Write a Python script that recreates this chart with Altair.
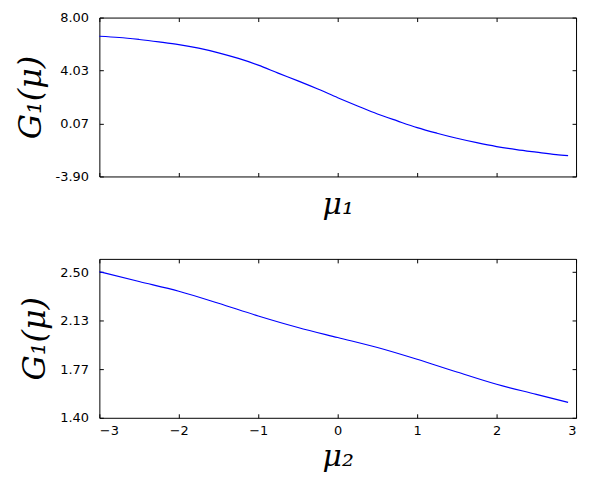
import altair as alt
import pandas as pd

MU_TOP = [-3.0, -2.75, -2.5, -2.25, -2.0, -1.75, -1.5, -1.25, -1.0, -0.75, -0.5, -0.25,
          0.0, 0.25, 0.5, 0.75, 1.0, 1.25, 1.5, 1.75, 2.0, 2.25, 2.5, 2.75, 2.9]
G_TOP = [6.60, 6.51, 6.36, 6.18, 5.98, 5.71, 5.36, 4.94, 4.44, 3.84, 3.26, 2.65,
         2.00, 1.38, 0.78, 0.26, -0.24, -0.66, -1.04, -1.37, -1.66, -1.89, -2.08, -2.26, -2.34]

MU_BOTTOM = [-3.0, -2.5, -2.0, -1.5, -1.0, -0.5, 0.0, 0.5, 1.0, 1.5, 2.0, 2.5, 2.9]
G_BOTTOM = [2.503, 2.429, 2.356, 2.265, 2.169, 2.082, 2.006, 1.931, 1.842, 1.746, 1.653, 1.577, 1.516]

X_TICKS = [-3, -2, -1, 0, 1, 2, 3]
Y_TICKS_TOP = [-3.9, 0.0667, 4.0333, 8.0]
Y_TICKS_BOTTOM = [1.4, 1.7667, 2.1333, 2.5]
Y_DOMAIN_TOP = [-3.9, 8.0]
Y_DOMAIN_BOTTOM = [1.4, 2.6]

TITLE_FONT = "DejaVu Serif"
LABEL_EXPR = "replace(format(datum.value, '.2f'), '\u2212', '-')"


def panel(mu, values, ydomain, yticks, xlabels, xtitle, xtitle_pad):
    df = pd.DataFrame({"mu": mu, "g": values})
    xs = alt.Scale(domain=[-3, 3], nice=False, zero=False)
    ys = alt.Scale(domain=ydomain, nice=False, zero=False)
    base = alt.Chart(df)
    line = base.mark_line(color="#0000ff", strokeWidth=1.2, interpolate="monotone").encode(
        x=alt.X("mu:Q", scale=xs, axis=alt.Axis(
            orient="bottom", values=X_TICKS, offset=-4, tickSize=4, domain=False,
            labels=xlabels, labelPadding=7, format="d",
            title=xtitle, titleFont=TITLE_FONT, titleFontSize=30, titleFontStyle="italic",
            titleFontWeight="normal", titlePadding=xtitle_pad)),
        y=alt.Y("g:Q", scale=ys, axis=alt.Axis(
            orient="left", values=yticks, offset=-4, tickSize=4, domain=False,
            labelExpr=LABEL_EXPR, labelPadding=11,
            title="G\u2081(\u03bc)", titleFont=TITLE_FONT, titleFontSize=32,
            titleFontStyle="italic", titleFontWeight="normal", titlePadding=8)),
    )
    ghost = base.mark_line(opacity=0).encode(
        x=alt.X("mu:Q", scale=xs, axis=alt.Axis(
            orient="top", values=X_TICKS, offset=-4, tickSize=4, domain=False,
            labels=False, title=None)),
        y=alt.Y("g:Q", scale=ys, axis=alt.Axis(
            orient="right", values=yticks, offset=-4, tickSize=4, domain=False,
            labels=False, title=None)),
    )
    return alt.layer(line, ghost).resolve_axis(x="independent", y="independent").properties(
        width=480, height=160)


top = panel(MU_TOP, G_TOP, Y_DOMAIN_TOP, Y_TICKS_TOP, False, "\u03bc\u2081", 13)
bottom = panel(MU_BOTTOM, G_BOTTOM, Y_DOMAIN_BOTTOM, Y_TICKS_BOTTOM, True, "\u03bc\u2082", 4)

chart = alt.vconcat(top, bottom, spacing=38).properties(
    padding={"left": 5, "top": 1, "right": 5, "bottom": 5}
).configure_view(stroke="black", strokeWidth=1).configure_axis(
    grid=False, labelFont="DejaVu Sans", labelFontSize=13, labelColor="black",
    tickColor="black", tickWidth=1, titleColor="black"
)

chart.save("out.html", embed_options={"renderer": "svg", "actions": False})
